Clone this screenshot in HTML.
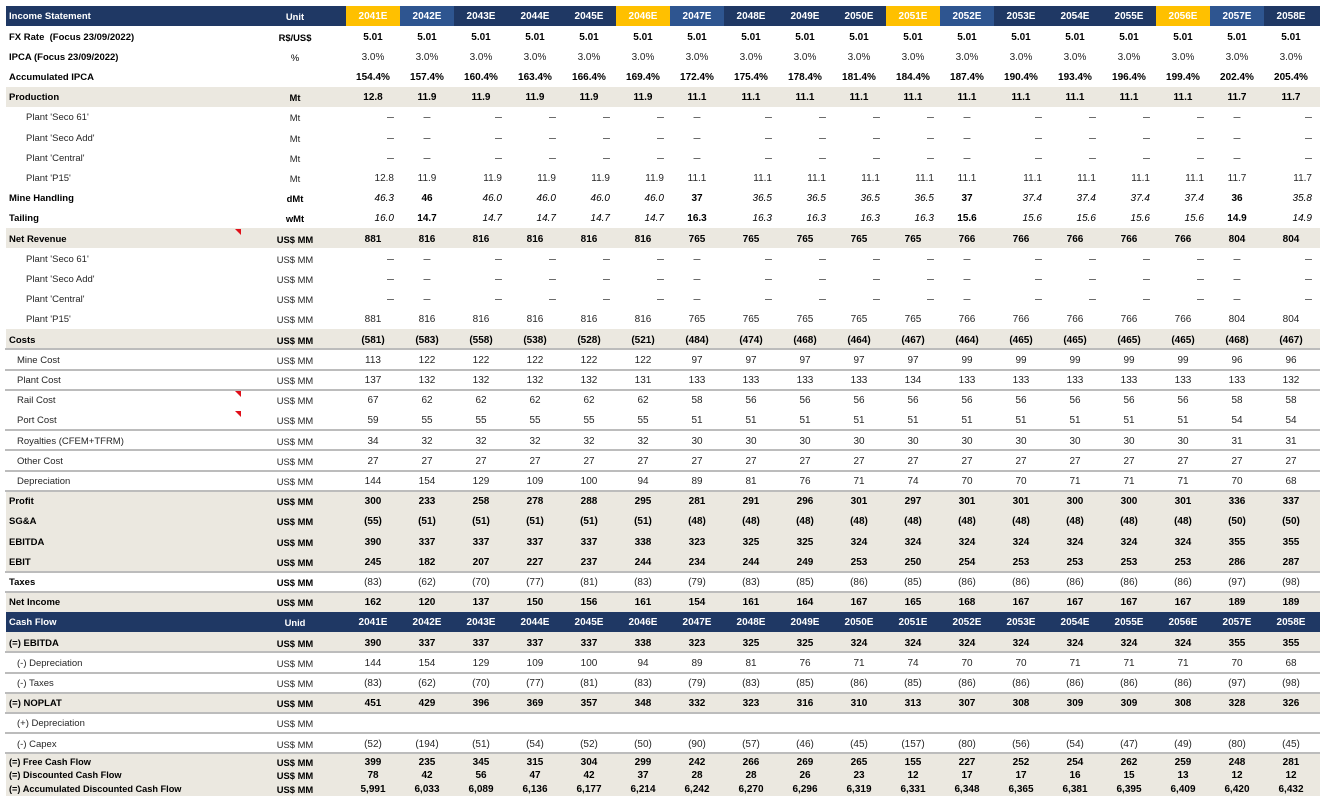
<!DOCTYPE html>
<html>
<head>
<meta charset="utf-8">
<style>
html,body{margin:0;padding:0}
body{width:1324px;height:803px;background:#fff;position:relative;overflow:hidden;font-family:"Liberation Sans",Arial,sans-serif;font-size:10px;color:#262626}
.r{position:absolute;left:6px;width:1314px;height:20.2px;line-height:20.2px;display:grid;grid-template-columns:254px 70px 16px repeat(18,54px);white-space:nowrap}
.r>span{text-align:center;overflow:visible;box-sizing:border-box;padding-top:2.4px;line-height:17.8px}
.r>span.l{text-align:left;padding-left:3px;font-size:9.5px}
.r>span:nth-child(2){font-size:9.4px}
.b{font-weight:bold;color:#000}
.bg{background:#ebe8e0}
.i1>span.l{padding-left:20px}
.i2>span.l{padding-left:11px}
.hd{background:#1f3864;color:#fff;font-weight:bold}
.hd .y{background:#ffc000}
.hd .lb{background:#2e5590}
.pat>span:nth-child(n+4){text-align:right;padding-right:6px}
.pat>span:nth-child(5),.pat>span:nth-child(10),.pat>span:nth-child(15),.pat>span:nth-child(20){text-align:center;padding-right:0}
.mh>span:nth-child(n+4){font-style:italic;font-weight:normal}
.mh>span:nth-child(5),.mh>span:nth-child(10),.mh>span:nth-child(15),.mh>span:nth-child(20){font-style:normal;font-weight:bold}
.n>span:nth-child(n+4){font-weight:normal;color:#262626}
.d>span:nth-child(n+4){color:#555;font-size:12.5px}
.ln{position:absolute;left:5px;width:1315px;height:2px;background:#bcbcbc}
.tri{position:absolute;width:0;height:0;border-top:6px solid #e0101a;border-left:6px solid transparent}
.blk{position:absolute;left:6px;width:1314px;background:#ebe8e0}
.s{height:13.5px;line-height:13.5px}
.s>span{padding-top:2.4px;line-height:11.1px}
.s>span.l{font-size:9.2px}
</style>
</head>
<body>

<!-- Income Statement header -->
<div class="r hd" style="top:6px"><span class="l">Income Statement</span><span>Unit</span><span></span><span class="y">2041E</span><span class="lb">2042E</span><span>2043E</span><span>2044E</span><span>2045E</span><span class="y">2046E</span><span class="lb">2047E</span><span>2048E</span><span>2049E</span><span>2050E</span><span class="y">2051E</span><span class="lb">2052E</span><span>2053E</span><span>2054E</span><span>2055E</span><span class="y">2056E</span><span class="lb">2057E</span><span>2058E</span></div>

<div class="r b" style="top:26.2px"><span class="l">FX Rate&nbsp; (Focus 23/09/2022)</span><span>R$/US$</span><span></span><span>5.01</span><span>5.01</span><span>5.01</span><span>5.01</span><span>5.01</span><span>5.01</span><span>5.01</span><span>5.01</span><span>5.01</span><span>5.01</span><span>5.01</span><span>5.01</span><span>5.01</span><span>5.01</span><span>5.01</span><span>5.01</span><span>5.01</span><span>5.01</span></div>

<div class="r b n" style="top:46.4px"><span class="l">IPCA (Focus 23/09/2022)</span><span style="font-weight:normal">%</span><span></span><span>3.0%</span><span>3.0%</span><span>3.0%</span><span>3.0%</span><span>3.0%</span><span>3.0%</span><span>3.0%</span><span>3.0%</span><span>3.0%</span><span>3.0%</span><span>3.0%</span><span>3.0%</span><span>3.0%</span><span>3.0%</span><span>3.0%</span><span>3.0%</span><span>3.0%</span><span>3.0%</span></div>

<div class="r b" style="top:66.6px"><span class="l">Accumulated IPCA</span><span></span><span></span><span>154.4%</span><span>157.4%</span><span>160.4%</span><span>163.4%</span><span>166.4%</span><span>169.4%</span><span>172.4%</span><span>175.4%</span><span>178.4%</span><span>181.4%</span><span>184.4%</span><span>187.4%</span><span>190.4%</span><span>193.4%</span><span>196.4%</span><span>199.4%</span><span>202.4%</span><span>205.4%</span></div>

<div class="r b bg" style="top:86.8px"><span class="l">Production</span><span>Mt</span><span></span><span>12.8</span><span>11.9</span><span>11.9</span><span>11.9</span><span>11.9</span><span>11.9</span><span>11.1</span><span>11.1</span><span>11.1</span><span>11.1</span><span>11.1</span><span>11.1</span><span>11.1</span><span>11.1</span><span>11.1</span><span>11.1</span><span>11.7</span><span>11.7</span></div>

<div class="r i1 pat d" style="top:107px"><span class="l">Plant 'Seco 61'</span><span>Mt</span><span></span><span>–</span><span>–</span><span>–</span><span>–</span><span>–</span><span>–</span><span>–</span><span>–</span><span>–</span><span>–</span><span>–</span><span>–</span><span>–</span><span>–</span><span>–</span><span>–</span><span>–</span><span>–</span></div>

<div class="r i1 pat d" style="top:127.2px"><span class="l">Plant 'Seco Add'</span><span>Mt</span><span></span><span>–</span><span>–</span><span>–</span><span>–</span><span>–</span><span>–</span><span>–</span><span>–</span><span>–</span><span>–</span><span>–</span><span>–</span><span>–</span><span>–</span><span>–</span><span>–</span><span>–</span><span>–</span></div>

<div class="r i1 pat d" style="top:147.4px"><span class="l">Plant 'Central'</span><span>Mt</span><span></span><span>–</span><span>–</span><span>–</span><span>–</span><span>–</span><span>–</span><span>–</span><span>–</span><span>–</span><span>–</span><span>–</span><span>–</span><span>–</span><span>–</span><span>–</span><span>–</span><span>–</span><span>–</span></div>

<div class="r i1 pat" style="top:167.6px"><span class="l">Plant 'P15'</span><span>Mt</span><span></span><span>12.8</span><span>11.9</span><span>11.9</span><span>11.9</span><span>11.9</span><span>11.9</span><span>11.1</span><span>11.1</span><span>11.1</span><span>11.1</span><span>11.1</span><span>11.1</span><span>11.1</span><span>11.1</span><span>11.1</span><span>11.1</span><span>11.7</span><span>11.7</span></div>

<div class="r b pat mh" style="top:187.8px"><span class="l">Mine Handling</span><span>dMt</span><span></span><span>46.3</span><span>46</span><span>46.0</span><span>46.0</span><span>46.0</span><span>46.0</span><span>37</span><span>36.5</span><span>36.5</span><span>36.5</span><span>36.5</span><span>37</span><span>37.4</span><span>37.4</span><span>37.4</span><span>37.4</span><span>36</span><span>35.8</span></div>

<div class="r b pat mh" style="top:208px"><span class="l">Tailing</span><span>wMt</span><span></span><span>16.0</span><span>14.7</span><span>14.7</span><span>14.7</span><span>14.7</span><span>14.7</span><span>16.3</span><span>16.3</span><span>16.3</span><span>16.3</span><span>16.3</span><span>15.6</span><span>15.6</span><span>15.6</span><span>15.6</span><span>15.6</span><span>14.9</span><span>14.9</span></div>

<div class="r b bg" style="top:228.2px"><span class="l">Net Revenue</span><span>US$ MM</span><span></span><span>881</span><span>816</span><span>816</span><span>816</span><span>816</span><span>816</span><span>765</span><span>765</span><span>765</span><span>765</span><span>765</span><span>766</span><span>766</span><span>766</span><span>766</span><span>766</span><span>804</span><span>804</span></div>

<div class="r i1 pat d" style="top:248.4px"><span class="l">Plant 'Seco 61'</span><span>US$ MM</span><span></span><span>–</span><span>–</span><span>–</span><span>–</span><span>–</span><span>–</span><span>–</span><span>–</span><span>–</span><span>–</span><span>–</span><span>–</span><span>–</span><span>–</span><span>–</span><span>–</span><span>–</span><span>–</span></div>

<div class="r i1 pat d" style="top:268.6px"><span class="l">Plant 'Seco Add'</span><span>US$ MM</span><span></span><span>–</span><span>–</span><span>–</span><span>–</span><span>–</span><span>–</span><span>–</span><span>–</span><span>–</span><span>–</span><span>–</span><span>–</span><span>–</span><span>–</span><span>–</span><span>–</span><span>–</span><span>–</span></div>

<div class="r i1 pat d" style="top:288.8px"><span class="l">Plant 'Central'</span><span>US$ MM</span><span></span><span>–</span><span>–</span><span>–</span><span>–</span><span>–</span><span>–</span><span>–</span><span>–</span><span>–</span><span>–</span><span>–</span><span>–</span><span>–</span><span>–</span><span>–</span><span>–</span><span>–</span><span>–</span></div>

<div class="r i1" style="top:309px"><span class="l">Plant 'P15'</span><span>US$ MM</span><span></span><span>881</span><span>816</span><span>816</span><span>816</span><span>816</span><span>816</span><span>765</span><span>765</span><span>765</span><span>765</span><span>765</span><span>766</span><span>766</span><span>766</span><span>766</span><span>766</span><span>804</span><span>804</span></div>

<div class="r b bg" style="top:329.2px"><span class="l">Costs</span><span>US$ MM</span><span></span><span>(581)</span><span>(583)</span><span>(558)</span><span>(538)</span><span>(528)</span><span>(521)</span><span>(484)</span><span>(474)</span><span>(468)</span><span>(464)</span><span>(467)</span><span>(464)</span><span>(465)</span><span>(465)</span><span>(465)</span><span>(465)</span><span>(468)</span><span>(467)</span></div>

<div class="r i2" style="top:349.4px"><span class="l">Mine Cost</span><span>US$ MM</span><span></span><span>113</span><span>122</span><span>122</span><span>122</span><span>122</span><span>122</span><span>97</span><span>97</span><span>97</span><span>97</span><span>97</span><span>99</span><span>99</span><span>99</span><span>99</span><span>99</span><span>96</span><span>96</span></div>

<div class="r i2" style="top:369.6px"><span class="l">Plant Cost</span><span>US$ MM</span><span></span><span>137</span><span>132</span><span>132</span><span>132</span><span>132</span><span>131</span><span>133</span><span>133</span><span>133</span><span>133</span><span>134</span><span>133</span><span>133</span><span>133</span><span>133</span><span>133</span><span>133</span><span>132</span></div>

<div class="r i2" style="top:389.8px"><span class="l">Rail Cost</span><span>US$ MM</span><span></span><span>67</span><span>62</span><span>62</span><span>62</span><span>62</span><span>62</span><span>58</span><span>56</span><span>56</span><span>56</span><span>56</span><span>56</span><span>56</span><span>56</span><span>56</span><span>56</span><span>58</span><span>58</span></div>

<div class="r i2" style="top:410px"><span class="l">Port Cost</span><span>US$ MM</span><span></span><span>59</span><span>55</span><span>55</span><span>55</span><span>55</span><span>55</span><span>51</span><span>51</span><span>51</span><span>51</span><span>51</span><span>51</span><span>51</span><span>51</span><span>51</span><span>51</span><span>54</span><span>54</span></div>

<div class="r i2" style="top:430.2px"><span class="l">Royalties (CFEM+TFRM)</span><span>US$ MM</span><span></span><span>34</span><span>32</span><span>32</span><span>32</span><span>32</span><span>32</span><span>30</span><span>30</span><span>30</span><span>30</span><span>30</span><span>30</span><span>30</span><span>30</span><span>30</span><span>30</span><span>31</span><span>31</span></div>

<div class="r i2" style="top:450.4px"><span class="l">Other Cost</span><span>US$ MM</span><span></span><span>27</span><span>27</span><span>27</span><span>27</span><span>27</span><span>27</span><span>27</span><span>27</span><span>27</span><span>27</span><span>27</span><span>27</span><span>27</span><span>27</span><span>27</span><span>27</span><span>27</span><span>27</span></div>

<div class="r i2" style="top:470.6px"><span class="l">Depreciation</span><span>US$ MM</span><span></span><span>144</span><span>154</span><span>129</span><span>109</span><span>100</span><span>94</span><span>89</span><span>81</span><span>76</span><span>71</span><span>74</span><span>70</span><span>70</span><span>71</span><span>71</span><span>71</span><span>70</span><span>68</span></div>

<div class="r b bg" style="top:490.8px"><span class="l">Profit</span><span>US$ MM</span><span></span><span>300</span><span>233</span><span>258</span><span>278</span><span>288</span><span>295</span><span>281</span><span>291</span><span>296</span><span>301</span><span>297</span><span>301</span><span>301</span><span>300</span><span>300</span><span>301</span><span>336</span><span>337</span></div>

<div class="r b bg" style="top:511px"><span class="l">SG&amp;A</span><span>US$ MM</span><span></span><span>(55)</span><span>(51)</span><span>(51)</span><span>(51)</span><span>(51)</span><span>(51)</span><span>(48)</span><span>(48)</span><span>(48)</span><span>(48)</span><span>(48)</span><span>(48)</span><span>(48)</span><span>(48)</span><span>(48)</span><span>(48)</span><span>(50)</span><span>(50)</span></div>

<div class="r b bg" style="top:531.2px"><span class="l">EBITDA</span><span>US$ MM</span><span></span><span>390</span><span>337</span><span>337</span><span>337</span><span>337</span><span>338</span><span>323</span><span>325</span><span>325</span><span>324</span><span>324</span><span>324</span><span>324</span><span>324</span><span>324</span><span>324</span><span>355</span><span>355</span></div>

<div class="r b bg" style="top:551.4px"><span class="l">EBIT</span><span>US$ MM</span><span></span><span>245</span><span>182</span><span>207</span><span>227</span><span>237</span><span>244</span><span>234</span><span>244</span><span>249</span><span>253</span><span>250</span><span>254</span><span>253</span><span>253</span><span>253</span><span>253</span><span>286</span><span>287</span></div>

<div class="r b n" style="top:571.6px"><span class="l">Taxes</span><span>US$ MM</span><span></span><span>(83)</span><span>(62)</span><span>(70)</span><span>(77)</span><span>(81)</span><span>(83)</span><span>(79)</span><span>(83)</span><span>(85)</span><span>(86)</span><span>(85)</span><span>(86)</span><span>(86)</span><span>(86)</span><span>(86)</span><span>(86)</span><span>(97)</span><span>(98)</span></div>

<div class="r b bg" style="top:591.8px"><span class="l">Net Income</span><span>US$ MM</span><span></span><span>162</span><span>120</span><span>137</span><span>150</span><span>156</span><span>161</span><span>154</span><span>161</span><span>164</span><span>167</span><span>165</span><span>168</span><span>167</span><span>167</span><span>167</span><span>167</span><span>189</span><span>189</span></div>

<!-- Cash Flow header -->
<div class="r hd" style="top:612px"><span class="l">Cash Flow</span><span>Unid</span><span></span><span>2041E</span><span>2042E</span><span>2043E</span><span>2044E</span><span>2045E</span><span>2046E</span><span>2047E</span><span>2048E</span><span>2049E</span><span>2050E</span><span>2051E</span><span>2052E</span><span>2053E</span><span>2054E</span><span>2055E</span><span>2056E</span><span>2057E</span><span>2058E</span></div>

<div class="r b bg" style="top:632.2px"><span class="l">(=) EBITDA</span><span>US$ MM</span><span></span><span>390</span><span>337</span><span>337</span><span>337</span><span>337</span><span>338</span><span>323</span><span>325</span><span>325</span><span>324</span><span>324</span><span>324</span><span>324</span><span>324</span><span>324</span><span>324</span><span>355</span><span>355</span></div>

<div class="r i2" style="top:652.4px"><span class="l">(-) Depreciation</span><span>US$ MM</span><span></span><span>144</span><span>154</span><span>129</span><span>109</span><span>100</span><span>94</span><span>89</span><span>81</span><span>76</span><span>71</span><span>74</span><span>70</span><span>70</span><span>71</span><span>71</span><span>71</span><span>70</span><span>68</span></div>

<div class="r i2" style="top:672.6px"><span class="l">(-) Taxes</span><span>US$ MM</span><span></span><span>(83)</span><span>(62)</span><span>(70)</span><span>(77)</span><span>(81)</span><span>(83)</span><span>(79)</span><span>(83)</span><span>(85)</span><span>(86)</span><span>(85)</span><span>(86)</span><span>(86)</span><span>(86)</span><span>(86)</span><span>(86)</span><span>(97)</span><span>(98)</span></div>

<div class="r b bg" style="top:692.8px"><span class="l">(=) NOPLAT</span><span>US$ MM</span><span></span><span>451</span><span>429</span><span>396</span><span>369</span><span>357</span><span>348</span><span>332</span><span>323</span><span>316</span><span>310</span><span>313</span><span>307</span><span>308</span><span>309</span><span>309</span><span>308</span><span>328</span><span>326</span></div>

<div class="r i2" style="top:713px"><span class="l">(+) Depreciation</span><span>US$ MM</span><span></span></div>

<div class="r i2" style="top:733.2px"><span class="l">(-) Capex</span><span>US$ MM</span><span></span><span>(52)</span><span>(194)</span><span>(51)</span><span>(54)</span><span>(52)</span><span>(50)</span><span>(90)</span><span>(57)</span><span>(46)</span><span>(45)</span><span>(157)</span><span>(80)</span><span>(56)</span><span>(54)</span><span>(47)</span><span>(49)</span><span>(80)</span><span>(45)</span></div>

<!-- Final compressed block -->
<div class="blk" style="top:753.4px;height:42.6px"></div>

<div class="r b s" style="top:755px"><span class="l">(=) Free Cash Flow</span><span>US$ MM</span><span></span><span>399</span><span>235</span><span>345</span><span>315</span><span>304</span><span>299</span><span>242</span><span>266</span><span>269</span><span>265</span><span>155</span><span>227</span><span>252</span><span>254</span><span>262</span><span>259</span><span>248</span><span>281</span></div>

<div class="r b s" style="top:767.5px"><span class="l">(=) Discounted Cash Flow</span><span>US$ MM</span><span></span><span>78</span><span>42</span><span>56</span><span>47</span><span>42</span><span>37</span><span>28</span><span>28</span><span>26</span><span>23</span><span>12</span><span>17</span><span>17</span><span>16</span><span>15</span><span>13</span><span>12</span><span>12</span></div>

<div class="r b s" style="top:782px;height:14px"><span class="l">(=) Accumulated Discounted Cash Flow</span><span>US$ MM</span><span></span><span>5,991</span><span>6,033</span><span>6,089</span><span>6,136</span><span>6,177</span><span>6,214</span><span>6,242</span><span>6,270</span><span>6,296</span><span>6,319</span><span>6,331</span><span>6,348</span><span>6,365</span><span>6,381</span><span>6,395</span><span>6,409</span><span>6,420</span><span>6,432</span></div>

<!-- separator lines -->
<div class="ln" style="top:348.4px"></div>
<div class="ln" style="top:368.6px"></div>
<div class="ln" style="top:388.8px"></div>
<div class="ln" style="top:429.2px"></div>
<div class="ln" style="top:449.4px"></div>
<div class="ln" style="top:469.6px"></div>
<div class="ln" style="top:489.8px"></div>
<div class="ln" style="top:570.6px"></div>
<div class="ln" style="top:590.8px"></div>
<div class="ln" style="top:651.4px"></div>
<div class="ln" style="top:671.6px"></div>
<div class="ln" style="top:691.8px"></div>
<div class="ln" style="top:712px"></div>
<div class="ln" style="top:732.2px"></div>
<div class="ln" style="top:752.4px"></div>

<!-- comment indicators -->
<div class="tri" style="left:235px;top:229px"></div>
<div class="tri" style="left:235px;top:391px"></div>
<div class="tri" style="left:235px;top:410.5px"></div>

</body>
</html>
